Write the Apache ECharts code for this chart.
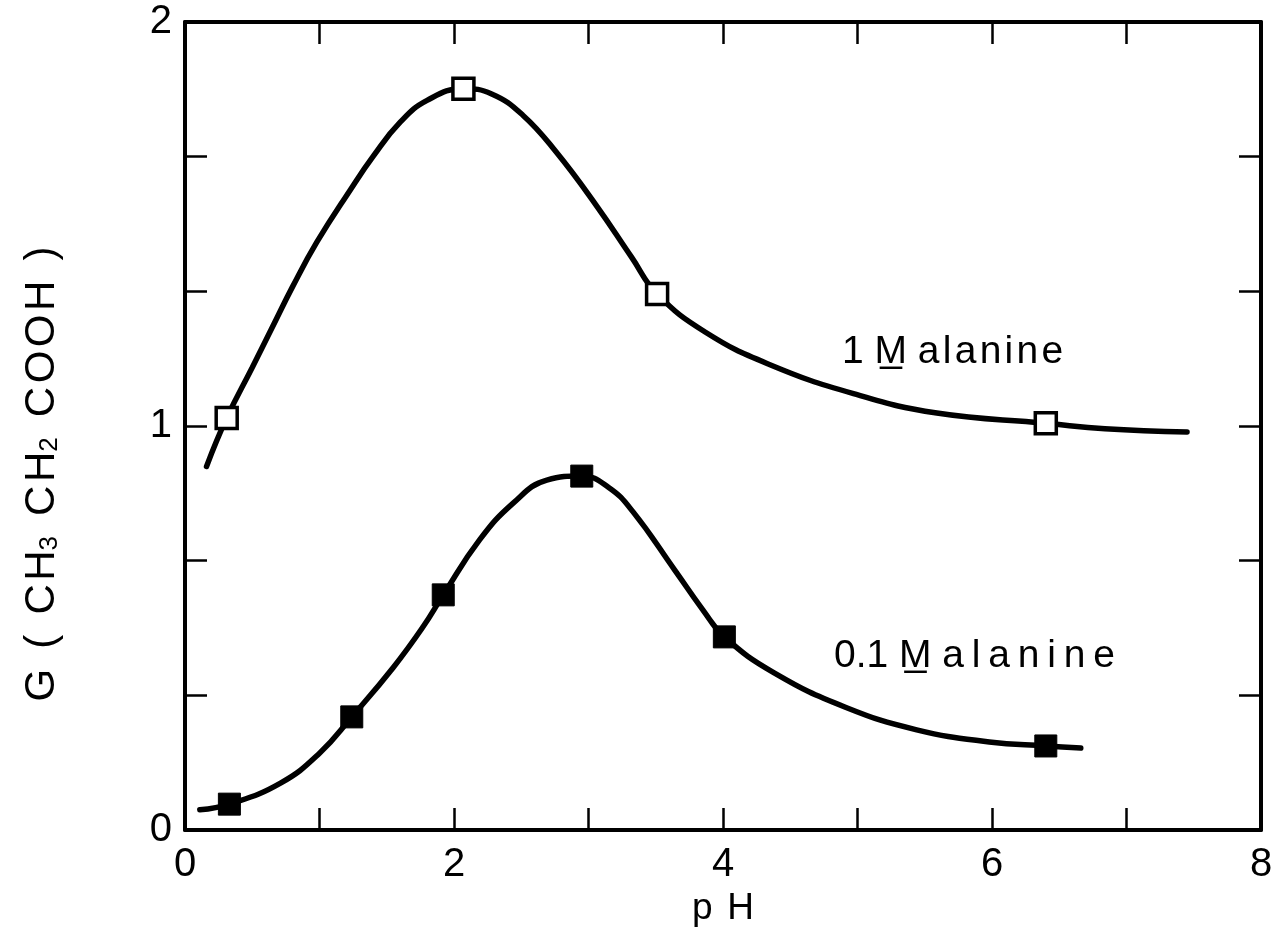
<!DOCTYPE html>
<html>
<head>
<meta charset="utf-8">
<script src="https://cdn.jsdelivr.net/npm/echarts@6/dist/echarts.min.js"></script>
<style>
html,body{margin:0;padding:0;background:#fff;}
#chart{width:1284px;height:938px;}
</style>
</head>
<body>
<div id="chart"></div>
<script>
// ---- data ----
// 1 M alanine: measured points (open squares)
const pH_1M = [0.31, 2.07, 3.51, 6.40];
const G_1M  = [1.02, 1.835, 1.327, 1.007];
// 1 M alanine: drawn curve
const curvePH_1M = [0.16,0.31,0.50,0.65,0.80,0.98,1.23,1.40,1.60,1.80,2.07,2.28,2.51,2.76,3.06,3.32,3.51,3.87,4.34,4.97,5.59,6.40,6.84,7.45];
const curveG_1M  = [0.90,1.02,1.145,1.245,1.345,1.455,1.585,1.668,1.752,1.806,1.835,1.822,1.77,1.678,1.545,1.418,1.327,1.232,1.153,1.080,1.032,1.007,0.993,0.985];
// 0.1 M alanine: measured points (filled squares)
const pH_01M = [0.33, 1.24, 1.92, 2.95, 4.01, 6.40];
const G_01M  = [0.064, 0.28, 0.582, 0.876, 0.478, 0.208];
// 0.1 M alanine: drawn curve
const curvePH_01M = [0.11,0.33,0.71,1.00,1.24,1.55,1.77,1.92,2.19,2.44,2.69,2.95,3.15,3.33,3.64,3.85,4.01,4.38,4.91,5.44,5.98,6.40,6.66];
const curveG_01M  = [0.05,0.064,0.116,0.19,0.28,0.403,0.503,0.582,0.718,0.809,0.866,0.876,0.848,0.788,0.644,0.545,0.478,0.389,0.304,0.248,0.218,0.208,0.203];
// axis tick labels
const xTickLabels = ['0','','2','','4','','6','','8'];
const yTickLabels = ['0','','','1','','','2'];
const seriesNames = ['1 M alanine', '0.1 M alanine'];

const zip = (a, b) => a.map((v, i) => [v, b[i]]);
const FONT = 'Liberation Sans';
const T = '\u2009';   // thin space
const HS = '\u200A';  // hair space

const chart = echarts.init(document.getElementById('chart'), null, {renderer: 'canvas'});

const axisLine = {show: true, onZero: false, lineStyle: {color: '#000', width: 4}};
const tick = {show: true, inside: true, length: 22, lineStyle: {color: '#000', width: 2.5}};
const Y_STEP = 1 / 3;

const option = {
  backgroundColor: '#fff',
  animation: false,
  grid: {left: 185, right: 23, top: 22, bottom: 108, containLabel: false},
  xAxis: [{
    type: 'value', min: 0, max: 8, interval: 1, position: 'bottom',
    axisLine: axisLine, axisTick: tick, splitLine: {show: false},
    axisLabel: {show: true, margin: 15, color: '#000', fontSize: 40, fontFamily: FONT,
      formatter: v => xTickLabels[Math.round(v)] || ''},
    name: 'p' + T + T + 'H', nameLocation: 'middle', nameGap: 56,
    nameTextStyle: {color: '#000', fontSize: 37, fontFamily: FONT}
  }, {
    type: 'value', min: 0, max: 8, interval: 1, position: 'top',
    axisLine: axisLine, axisTick: tick, splitLine: {show: false}, axisLabel: {show: false}
  }],
  yAxis: [{
    type: 'value', min: 0, max: 2, interval: Y_STEP, position: 'left',
    axisLine: axisLine, axisTick: tick, splitLine: {show: false},
    axisLabel: {show: true, margin: 13, color: '#000', fontSize: 40, fontFamily: FONT,
      formatter: v => yTickLabels[Math.round(v / Y_STEP)] || ''}
  }, {
    type: 'value', min: 0, max: 2, interval: Y_STEP, position: 'right',
    axisLine: axisLine, axisTick: tick, splitLine: {show: false}, axisLabel: {show: false}
  }],
  series: [{
    name: seriesNames[0] + ' curve', type: 'line', data: zip(curvePH_1M, curveG_1M),
    xAxisIndex: 1, yAxisIndex: 1,
    smooth: 0.45, showSymbol: false, symbol: 'none',
    lineStyle: {color: '#000', width: 5.5, cap: 'round', opacity: 1}, z: 2
  }, {
    name: seriesNames[1] + ' curve', type: 'line', data: zip(curvePH_01M, curveG_01M),
    smooth: 0.45, showSymbol: false, symbol: 'none',
    lineStyle: {color: '#000', width: 5.5, cap: 'round', opacity: 1}, z: 2
  }, {
    name: seriesNames[0], type: 'scatter', data: zip(pH_1M, G_1M),
    symbol: 'rect', symbolSize: 21,
    itemStyle: {color: '#fff', borderColor: '#000', borderWidth: 3.5, opacity: 1}, z: 5
  }, {
    name: seriesNames[1], type: 'scatter', data: zip(pH_01M, G_01M),
    symbol: 'rect', symbolSize: 22,
    itemStyle: {color: '#000', borderColor: '#000', borderWidth: 1, opacity: 1}, z: 5
  }],
  graphic: [{
    type: 'text', x: 39, y: 474, rotation: Math.PI / 2, z: 10,
    style: {
      text: '{n|G' + T + ' (' + T + ' C' + HS + 'H}{s|3}{n|' + T + ' C' + HS + 'H}{s|2}{n|' + T + ' C' + HS + 'O' + HS + 'O' + HS + 'H' + T + ' )}',
      align: 'center', verticalAlign: 'middle',
      rich: {
        n: {fontSize: 42, fontFamily: FONT, fill: '#000', verticalAlign: 'bottom', lineHeight: 48},
        s: {fontSize: 26, fontFamily: FONT, fill: '#000', verticalAlign: 'bottom', lineHeight: 34}
      }
    }
  }, {
    type: 'text', left: 842, top: 333, z: 10,
    style: {text: '1 M\u0332 ' + ['a','l','a','n','i','n','e'].join(HS), fill: '#000', font: '39px "Liberation Sans"'}
  }, {
    type: 'text', left: 834, top: 637, z: 10,
    style: {text: '0.1 M\u0332 ' + ['a','l','a','n','i','n','e'].join(T), fill: '#000', font: '39px "Liberation Sans"'}
  }]
};
chart.setOption(option);
</script>
</body>
</html>
